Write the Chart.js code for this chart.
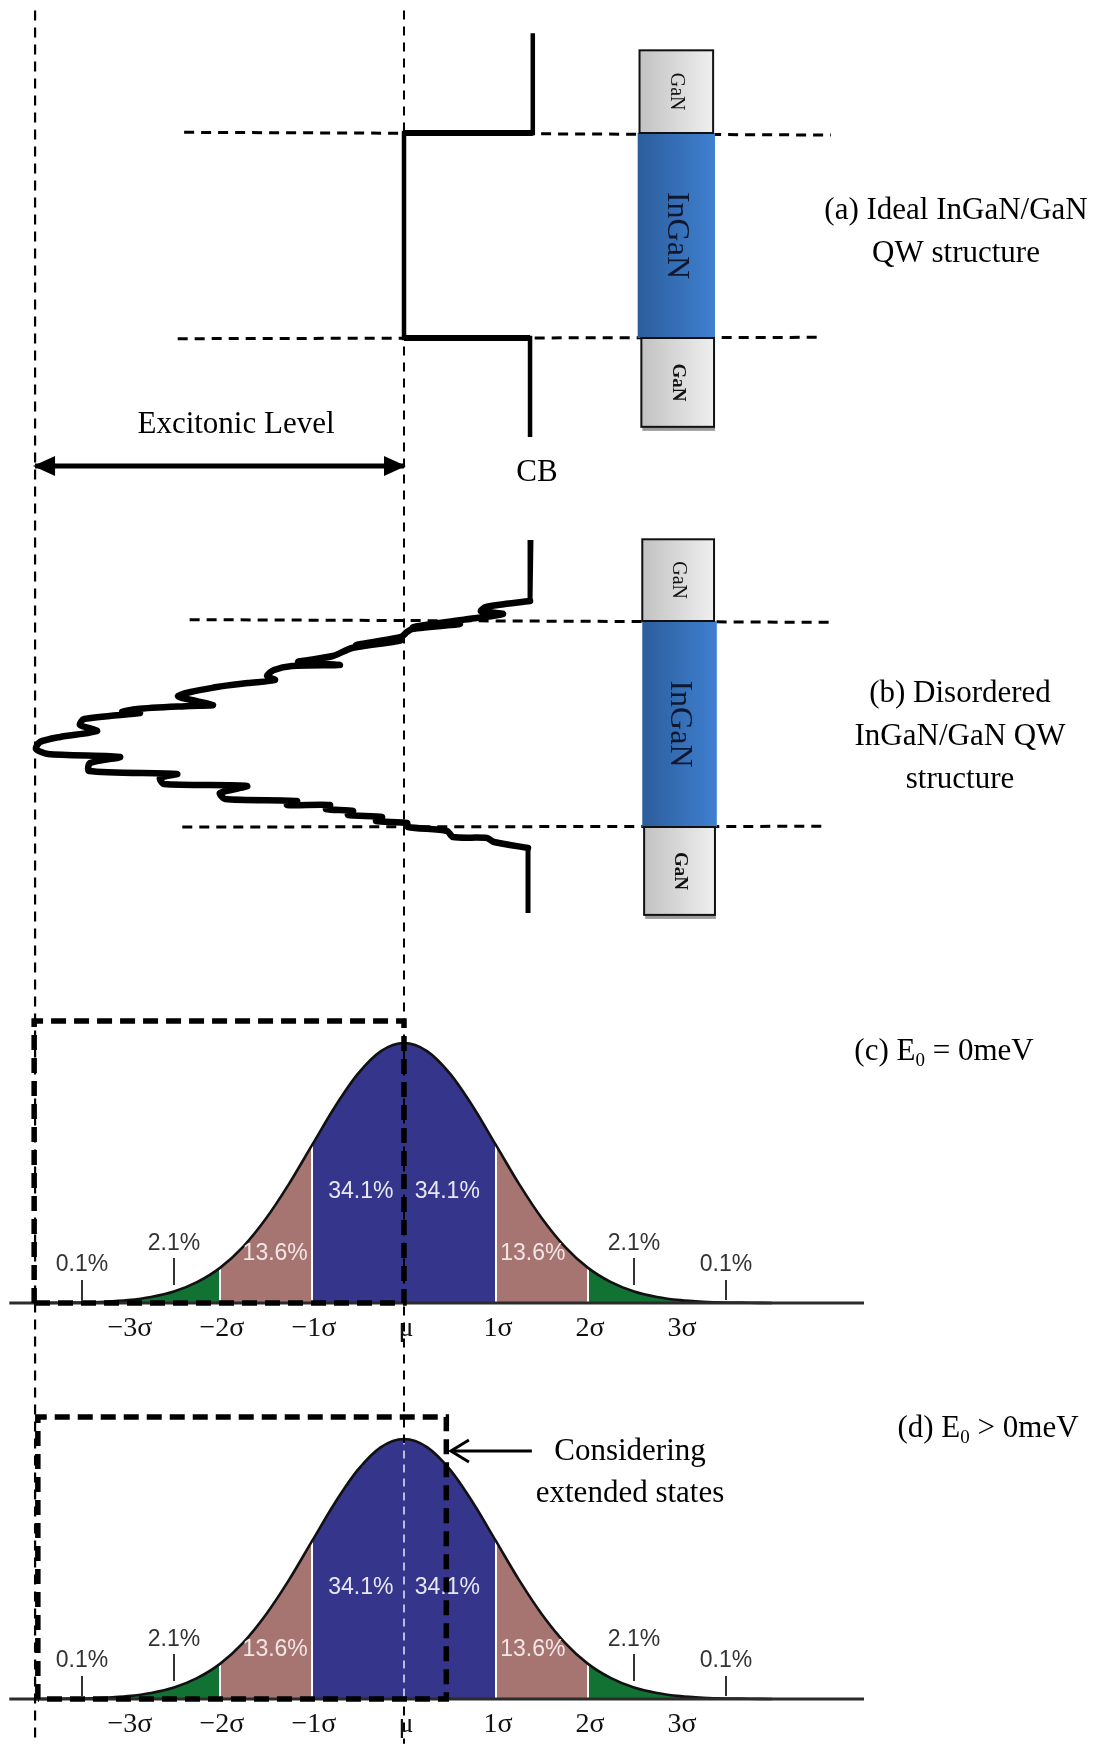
<!DOCTYPE html>
<html>
<head>
<meta charset="utf-8">
<title>InGaN/GaN QW localisation</title>
<script src="https://cdn.jsdelivr.net/npm/chart.js@4.4.1/dist/chart.umd.min.js"></script>
<style>
  html, body { margin: 0; padding: 0; background: #fff; }
  #wrap { position: relative; width: 1109px; height: 1749px; }
  canvas { display: block; }
</style>
</head>
<body>
<div id="wrap"><canvas id="fig" width="1109" height="1749"></canvas></div>
<script>
// ---------------- data ----------------
// Normal distribution of localised states (height normalised to the peak),
// read at quarter-sigma steps.
const sigmaSteps = [-4, -3.75, -3.5, -3.25, -3, -2.75, -2.5, -2.25, -2, -1.75, -1.5, -1.25, -1, -0.75, -0.5, -0.25,
                    0, 0.25, 0.5, 0.75, 1, 1.25, 1.5, 1.75, 2, 2.25, 2.5, 2.75, 3, 3.25, 3.5, 3.75, 4];
const densityValues = [0.000, 0.001, 0.002, 0.005, 0.011, 0.023, 0.044, 0.080, 0.135, 0.216, 0.325, 0.458, 0.607, 0.755, 0.882, 0.969,
                       1.000, 0.969, 0.882, 0.755, 0.607, 0.458, 0.325, 0.216, 0.135, 0.080, 0.044, 0.023, 0.011, 0.005, 0.002, 0.001, 0.000];

// shaded bands in sigma units and the share of states in each labelled band
const bandEdges = [[-4, -3], [-3, -2], [-2, -1], [-1, 1], [1, 2], [2, 3], [3, 4]];
const separatorSigma = [-2, -1, 1, 2];
const shareLabels = ['0.1%', '2.1%', '13.6%', '34.1%', '34.1%', '13.6%', '2.1%', '0.1%'];
const shareSigma  = [-3.5, -2.5, -1.4, -0.47, 0.47, 1.4, 2.5, 3.5];
const shareHeight = [0.148, 0.229, 0.19, 0.43, 0.43, 0.19, 0.229, 0.148];
const pointerSigma = [-3.5, -2.5, 2.5, 3.5];
const pointerSpan  = [[0.012, 0.088], [0.069, 0.173], [0.069, 0.173], [0.012, 0.088]];

// sigma axis tick labels
const sigmaTickValues = [-3, -2, -1, 0, 1, 2, 3];
const sigmaTickLabels = ['\u22123\u03c3', '\u22122\u03c3', '\u22121\u03c3', '\u03bc', '1\u03c3', '2\u03c3', '3\u03c3'];

// mobility edge for the two cases (sigma units)
const edgeIdeal = 0;
const edgeExtended = 0.46;
const excitonLevel = -4.01;

// quantum well: growth position (nm) and conduction band edge (sigma units)
const wellWidth = 3;
const idealDepth  = [-1.46, 0, 0, 3, 3, 4.45];
const idealEnergy = [1.40, 1.40, 0, 0, 1.37, 1.37];

// disordered well: fluctuating conduction band edge
const disorderDepth = [-1.180, -0.291, -0.204, -0.146, -0.102, -0.015, 0.087, 0.044, 0.117, 0.160, 0.233, 0.350, 0.291, 0.393,
  0.510, 0.597, 0.641, 0.655, 0.714, 0.801, 0.859, 0.903, 0.961, 1.092, 1.223, 1.238, 1.281, 1.325, 1.340, 1.427, 1.514,
  1.602, 1.689, 1.762, 1.864, 1.937, 1.981, 2.068, 2.184, 2.228, 2.286, 2.374, 2.403, 2.505, 2.592, 2.621, 2.680, 2.680,
  2.738, 2.767, 2.825, 2.854, 2.913, 2.942, 3.000, 3.058, 3.146, 3.160, 3.218, 3.306, 4.252];
const disorderEnergy = [1.380, 1.370, 0.891, 0.837, 1.076, 0.630, 0.098, 0.609, 0.087, 0.033, -0.033, -0.522, -0.043, -0.565,
  -0.772, -1.152, -0.696, -1.217, -1.413, -1.489, -1.402, -1.696, -2.033, -2.457, -2.076, -2.326, -2.902, -3.065, -2.870,
  -3.478, -3.522, -3.337, -3.739, -3.957, -4.000, -3.870, -3.087, -3.413, -3.424, -2.467, -2.652, -2.609, -1.707, -2.000,
  -1.946, -1.163, -1.272, -0.804, -0.848, -0.554, -0.609, -0.239, -0.304, 0.033, 0.043, 0.467, 0.533, 0.902, 0.978,
  1.348, 1.348];

// ---------------- page layout ----------------
const W = 1109, H = 1749;
const MU_X = 404, SIGMA_W = 92;          // centre line and width of one sigma
const A_TOP = 133, A_BOT = 338;           // ideal well edges on the page
const B_TOP = 621, B_BOT = 827;           // disordered well edges on the page
const C_BASE = 1303, D_BASE = 1699, PEAK_H = 260;

const pxPerNmA = (A_BOT - A_TOP) / wellWidth;
const pxPerNmB = (B_BOT - B_TOP) / wellWidth;

const colors = {
  band: ['#1e1e1e', '#127234', '#a67471', '#35358b', '#a67471', '#127234', '#1e1e1e'],
  blue: '#35358b'
};

// ---------------- datasets ----------------
const datasets = [];
function add(ds) {
  datasets.push(Object.assign({
    type: 'line', pointRadius: 0, pointHoverRadius: 0, fill: false, tension: 0,
    borderColor: '#000', borderWidth: 2, xAxisID: 'xs', spanGaps: false
  }, ds));
}
const pairs = (xs, ys) => xs.map((x, i) => ({ x, y: ys[i] }));
function segments(list) {
  const out = [];
  list.forEach(([x0, y0, x1, y1], i) => {
    if (i) out.push({ x: x0, y: null });
    out.push({ x: x0, y: y0 }, { x: x1, y: y1 });
  });
  return out;
}
function densityAt(s) { return densityValues[sigmaSteps.indexOf(s)]; }
function bandPoints(lo, hi) {
  const out = [];
  sigmaSteps.forEach((s, i) => { if (s >= lo && s <= hi) out.push({ x: s, y: densityValues[i] }); });
  return out;
}

// distributions (c) and (d)
[['dc', 'c'], ['dd', 'd']].forEach(([yID, key]) => {
  bandEdges.forEach(([lo, hi], k) => add({
    yAxisID: yID, data: bandPoints(lo, hi), fill: { value: 0 }, backgroundColor: colors.band[k],
    borderColor: 'rgba(0,0,0,0)', borderWidth: 0, cubicInterpolationMode: 'monotone', order: 100
  }));
  add({ yAxisID: yID, data: segments(separatorSigma.map(s => [s, 0, s, densityAt(s)])),
        borderColor: '#ffffff', borderWidth: 2, order: 90 });
  add({ yAxisID: yID, data: pairs(sigmaSteps, densityValues), cubicInterpolationMode: 'monotone',
        borderColor: '#111', borderWidth: 2.6, order: 80 });
  add({ yAxisID: yID, data: [{ x: -4.29, y: 0 }, { x: 5.0, y: 0 }], borderColor: '#2b2b2b', borderWidth: 3.2, order: 75 });
  add({ yAxisID: yID, data: segments(pointerSigma.map((s, i) => [s, pointerSpan[i][0], s, pointerSpan[i][1]])),
        borderColor: '#333', borderWidth: 2, order: key === 'c' ? 70 : 69, labelHook: key === 'd' });
});

// centre line inside distribution (d)
add({ yAxisID: 'dd', data: [{ x: 0, y: 0.01 }, { x: 0, y: 0.985 }], borderColor: colors.blue, borderWidth: 3.5, order: 59 });
add({ yAxisID: 'dd', data: [{ x: 0, y: 0.01 }, { x: 0, y: 0.985 }], borderColor: '#dcdcf0', borderWidth: 1.6,
      borderDash: [8, 6], order: 58 });

// vertical guides: excitonic level and band-edge centre
add({ yAxisID: 'page', data: [{ x: excitonLevel, y: 0.006 }, { x: excitonLevel, y: 0.995 }],
      borderWidth: 2.2, borderDash: [10, 7], order: 60 });
add({ yAxisID: 'page', data: [{ x: 0, y: 0.006 }, { x: 0, y: 0.997 }],
      borderWidth: 2, borderDash: [9, 7], order: 60 });

// interface lines of the two wells
add({ yAxisID: 'za', data: [{ x: -2.39, y: -0.01 }, { x: 4.64, y: 0.03 }], borderWidth: 3, borderDash: [10, 7], order: 55 });
add({ yAxisID: 'za', data: [{ x: -2.46, y: 3.01 }, { x: 4.55, y: 2.99 }], borderWidth: 3, borderDash: [10, 7], order: 55 });
add({ yAxisID: 'zb', data: [{ x: -2.33, y: -0.02 }, { x: 4.68, y: 0.02 }], borderWidth: 3, borderDash: [10, 7], order: 55 });
add({ yAxisID: 'zb', data: [{ x: -2.41, y: 3.0 }, { x: 4.59, y: 2.99 }], borderWidth: 3, borderDash: [10, 7], order: 55 });

// conduction band profiles
add({ yAxisID: 'za', data: pairs(idealEnergy, idealDepth), borderWidth: 4.5, borderJoinStyle: 'miter', order: 50 });
add({ yAxisID: 'za', data: segments([[idealEnergy[1], 0, 0, 0], [0, wellWidth, idealEnergy[4], wellWidth]]),
      borderWidth: 6, order: 50 });
const disorderPts = pairs(disorderEnergy, disorderDepth);
const lastPt = disorderPts.length - 1;
// straight barrier sections and the fluctuating well section
add({ yAxisID: 'zb', data: [disorderPts[0], disorderPts[1]], borderWidth: 5, borderCapStyle: 'butt', order: 50 });
add({ yAxisID: 'zb', data: [disorderPts[lastPt - 1], disorderPts[lastPt]], borderWidth: 5, borderCapStyle: 'butt', order: 50 });
add({ yAxisID: 'zb', data: disorderPts.slice(1, lastPt), borderWidth: 6.5, tension: 0.25,
      borderJoinStyle: 'round', borderCapStyle: 'round', order: 50 });

// integration windows for the two cases
add({ yAxisID: 'dc', data: [{ x: -4.02, y: 0 }, { x: -4.02, y: 1.085 }, { x: edgeIdeal, y: 1.085 }, { x: edgeIdeal, y: 0 }, { x: -4.02, y: 0 }],
      borderWidth: 5.5, borderDash: [15, 8], borderJoinStyle: 'miter', order: 40 });
add({ yAxisID: 'dd', data: [{ x: -3.98, y: 0 }, { x: -3.98, y: 1.085 }, { x: edgeExtended, y: 1.085 }, { x: edgeExtended, y: 0 }, { x: -3.98, y: 0 }],
      borderWidth: 5.5, borderDash: [15, 8], borderJoinStyle: 'miter', order: 40 });

// arrows
add({ yAxisID: 'za', data: [{ x: excitonLevel, y: 4.873 }, { x: 0, y: 4.873 }], borderWidth: 5, order: 30, arrow: 'both' });
add({ yAxisID: 'dd', data: [{ x: 1.39, y: 0.954 }, { x: edgeExtended + 0.05, y: 0.954 }], borderWidth: 3, order: 30, arrow: 'open' });

// ---------------- drawing helpers ----------------
const SERIF = '"Liberation Serif", "Times New Roman", serif';
const SANS = '"Liberation Sans", Arial, sans-serif';

function drawText(ctx, str, x, y, font, color) {
  ctx.save();
  ctx.font = font; ctx.fillStyle = color || '#000';
  ctx.textAlign = 'center'; ctx.textBaseline = 'middle';
  ctx.fillText(str, x, y);
  ctx.restore();
}
function drawSubText(ctx, parts, cx, cy, size) {
  ctx.save();
  ctx.textBaseline = 'middle'; ctx.textAlign = 'left'; ctx.fillStyle = '#000';
  const fontFor = p => (p.sub ? Math.round(size * 0.62) : size) + 'px ' + SERIF;
  let total = 0;
  parts.forEach(p => { ctx.font = fontFor(p); total += ctx.measureText(p.t).width; });
  let x = cx - total / 2;
  parts.forEach(p => {
    ctx.font = fontFor(p);
    ctx.fillText(p.t, x, p.sub ? cy + size * 0.3 : cy);
    x += ctx.measureText(p.t).width;
  });
  ctx.restore();
}
function drawHead(ctx, tip, from, len, half, filled) {
  const ang = Math.atan2(tip.y - from.y, tip.x - from.x);
  ctx.save();
  ctx.translate(tip.x, tip.y); ctx.rotate(ang);
  ctx.fillStyle = '#000'; ctx.strokeStyle = '#000';
  ctx.beginPath();
  if (filled) {
    ctx.moveTo(2, 0); ctx.lineTo(-len, -half); ctx.lineTo(-len, half); ctx.closePath(); ctx.fill();
  } else {
    ctx.lineWidth = 3; ctx.lineCap = 'butt'; ctx.lineJoin = 'miter';
    ctx.moveTo(-len, -half); ctx.lineTo(0, 0); ctx.lineTo(-len, half); ctx.stroke();
  }
  ctx.restore();
}
function drawLayerStack(ctx, chart, yID, spec) {
  const xs = chart.scales.xs, ys = chart.scales[yID];
  const X = v => xs.getPixelForValue(v), Y = v => ys.getPixelForValue(v);
  const grey = (x0, x1) => { const g = ctx.createLinearGradient(x0, 0, x1, 0); g.addColorStop(0, '#c2c2c2'); g.addColorStop(1, '#efefef'); return g; };
  // InGaN well
  const wx0 = X(spec.ingan[0]), wx1 = X(spec.ingan[1]), wy0 = Y(0), wy1 = Y(wellWidth);
  const gb = ctx.createLinearGradient(wx0, 0, wx1, 0);
  gb.addColorStop(0, '#2c5d9c'); gb.addColorStop(1, '#3f80d0');
  ctx.fillStyle = gb; ctx.fillRect(wx0, wy0, wx1 - wx0, wy1 - wy0);
  // GaN barriers
  [[spec.top, 0, spec.ganTop], [wellWidth, spec.bottom, spec.ganBot]].forEach(([z0, z1, gx], k) => {
    const x0 = X(gx[0]), x1 = X(gx[1]), y0 = Y(z0), y1 = Y(z1);
    if (k === 1) { ctx.fillStyle = '#9a9a9a'; ctx.fillRect(x0 + 1, y1, x1 - x0, 4); }
    ctx.fillStyle = grey(x0, x1); ctx.fillRect(x0, y0, x1 - x0, y1 - y0);
    ctx.strokeStyle = '#111'; ctx.lineWidth = 2; ctx.strokeRect(x0, y0, x1 - x0, y1 - y0);
    ctx.save();
    ctx.translate((x0 + x1) / 2, (y0 + y1) / 2); ctx.rotate(Math.PI / 2);
    ctx.font = (k === 1 ? 'bold 19px ' : '20px ') + SERIF; ctx.fillStyle = '#111';
    ctx.textAlign = 'center'; ctx.textBaseline = 'middle';
    ctx.fillText('GaN', 0, 0);
    ctx.restore();
  });
  ctx.save();
  ctx.translate((wx0 + wx1) / 2, (wy0 + wy1) / 2); ctx.rotate(Math.PI / 2);
  ctx.font = '32px ' + SERIF; ctx.fillStyle = '#0f1830';
  ctx.textAlign = 'center'; ctx.textBaseline = 'middle';
  ctx.fillText('InGaN', 0, 0);
  ctx.restore();
}

const overlay = {
  id: 'overlay',
  afterDatasetDraw(chart, args) {
    const ds = chart.data.datasets[args.index];
    if (!ds.labelHook) return;
    const ctx = chart.ctx, xs = chart.scales.xs;
    ['dc', 'dd'].forEach(yID => {
      const ys = chart.scales[yID];
      shareLabels.forEach((t, i) => {
        const inner = Math.abs(shareSigma[i]) < 2;
        const col = Math.abs(shareSigma[i]) < 1 ? '#e8e8f4' : (inner ? '#f3e6e6' : '#333');
        drawText(ctx, t, xs.getPixelForValue(shareSigma[i]), ys.getPixelForValue(shareHeight[i]), '23px ' + SANS, col);
      });
    });
  },
  afterDatasetsDraw(chart) {
    const ctx = chart.ctx, xs = chart.scales.xs;
    // arrow heads
    chart.data.datasets.forEach((ds, i) => {
      if (!ds.arrow) return;
      const pts = chart.getDatasetMeta(i).data;
      const a = pts[0], b = pts[pts.length - 1];
      if (ds.arrow === 'both') {
        drawHead(ctx, { x: b.x, y: b.y }, { x: a.x, y: a.y }, 20, 10, true);
        drawHead(ctx, { x: a.x, y: a.y }, { x: b.x, y: b.y }, 20, 10, true);
      } else {
        drawHead(ctx, { x: b.x, y: b.y }, { x: a.x, y: a.y }, 18, 11, false);
      }
    });
    // layer stacks
    drawLayerStack(ctx, chart, 'za', { top: -1.21, bottom: 4.30, ingan: [2.54, 3.38], ganTop: [2.56, 3.36], ganBot: [2.58, 3.37] });
    drawLayerStack(ctx, chart, 'zb', { top: -1.19, bottom: 4.28, ingan: [2.59, 3.40], ganTop: [2.59, 3.37], ganBot: [2.61, 3.38] });
    // sigma axis labels
    ['dc', 'dd'].forEach(yID => {
      const base = chart.scales[yID].getPixelForValue(0);
      sigmaTickValues.forEach((v, i) => drawText(ctx, sigmaTickLabels[i], xs.getPixelForValue(v) + 2, base + 26, '28px ' + SERIF, '#111'));
    });
    // annotations
    const f = '31px ' + SERIF;
    drawText(ctx, 'Excitonic Level', 236, 425, f);
    drawText(ctx, 'CB', 537, 473, f);
    drawText(ctx, '(a) Ideal InGaN/GaN', 956, 211, f);
    drawText(ctx, 'QW structure', 956, 254, f);
    drawText(ctx, '(b) Disordered', 960, 694, f);
    drawText(ctx, 'InGaN/GaN QW', 960, 737, f);
    drawText(ctx, 'structure', 960, 780, f);
    drawText(ctx, 'Considering', 630, 1452, f);
    drawText(ctx, 'extended states', 630, 1494, f);
    drawSubText(ctx, [{ t: '(c) E' }, { t: '0', sub: true }, { t: ' = 0meV' }], 944, 1052, 31);
    drawSubText(ctx, [{ t: '(d) E' }, { t: '0', sub: true }, { t: ' > 0meV' }], 988, 1429, 31);
  }
};

// ---------------- chart ----------------
const scaleY = (min, max, reverse) => ({ type: 'linear', axis: 'y', display: false, bounds: 'data', min, max, reverse: !!reverse });
const dcMin = -(H - C_BASE) / PEAK_H, ddMin = -(H - D_BASE) / PEAK_H;

new Chart(document.getElementById('fig'), {
  type: 'line',
  data: { datasets },
  options: {
    responsive: false, animation: false, devicePixelRatio: 1,
    events: [],
    layout: { padding: 0 },
    plugins: { legend: { display: false }, tooltip: { enabled: false } },
    scales: {
      xs: { type: 'linear', axis: 'x', display: false, bounds: 'data', min: -MU_X / SIGMA_W, max: (W - MU_X) / SIGMA_W },
      za: scaleY(-A_TOP / pxPerNmA, (H - A_TOP) / pxPerNmA, true),
      zb: scaleY(-B_TOP / pxPerNmB, (H - B_TOP) / pxPerNmB, true),
      dc: scaleY(dcMin, dcMin + H / PEAK_H),
      dd: scaleY(ddMin, ddMin + H / PEAK_H),
      page: scaleY(0, 1, true)
    }
  },
  plugins: [overlay]
});
</script>
</body>
</html>
